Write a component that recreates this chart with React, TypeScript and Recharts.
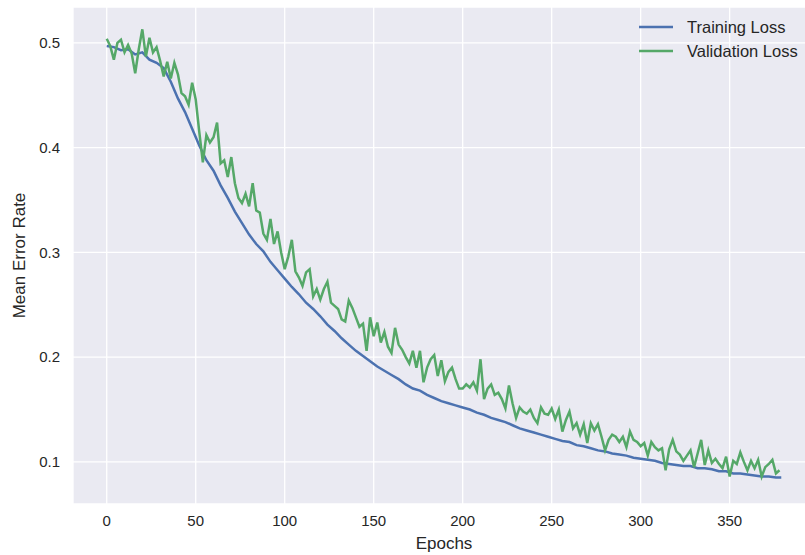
import { LineChart, Line, XAxis, YAxis, CartesianGrid, Label } from "recharts";

// validation loss, one reading every 2 epochs (0..378)
const valLoss = [
  0.504, 0.497, 0.484, 0.5, 0.503, 0.491, 0.498, 0.49, 0.471, 0.494,
  0.513, 0.487, 0.505, 0.491, 0.496, 0.483, 0.468, 0.482, 0.466, 0.481,
  0.47, 0.452, 0.449, 0.441, 0.462, 0.446, 0.415, 0.386, 0.412, 0.405,
  0.41, 0.424, 0.385, 0.388, 0.372, 0.391, 0.366, 0.352, 0.347, 0.356,
  0.344, 0.366, 0.34, 0.338, 0.318, 0.312, 0.332, 0.308, 0.32, 0.3,
  0.284, 0.296, 0.312, 0.282, 0.276, 0.268, 0.281, 0.284, 0.258, 0.265,
  0.255, 0.265, 0.272, 0.252, 0.249, 0.246, 0.236, 0.234, 0.254, 0.247,
  0.238, 0.229, 0.232, 0.206, 0.238, 0.22, 0.233, 0.214, 0.224, 0.21,
  0.204, 0.228, 0.212, 0.207, 0.2, 0.194, 0.206, 0.19, 0.206, 0.176,
  0.19, 0.198, 0.202, 0.182, 0.197, 0.177, 0.186, 0.19, 0.179, 0.17,
  0.17, 0.174, 0.171, 0.176, 0.168, 0.198, 0.16, 0.17, 0.174, 0.164,
  0.166, 0.16, 0.151, 0.173, 0.156, 0.142, 0.152, 0.148, 0.146, 0.15,
  0.142, 0.137, 0.152, 0.146, 0.145, 0.151, 0.141, 0.15, 0.129, 0.14,
  0.148, 0.132, 0.137, 0.126, 0.136, 0.118, 0.137, 0.13, 0.136, 0.124,
  0.111, 0.121, 0.126, 0.124, 0.119, 0.124, 0.114, 0.129, 0.121, 0.119,
  0.115, 0.118, 0.106, 0.119, 0.114, 0.111, 0.113, 0.092, 0.112, 0.121,
  0.11, 0.107, 0.101, 0.106, 0.111, 0.095, 0.108, 0.121, 0.097, 0.111,
  0.099, 0.103, 0.098, 0.094, 0.105, 0.086, 0.101, 0.098, 0.109, 0.1,
  0.092, 0.101, 0.094, 0.102, 0.086, 0.095, 0.098, 0.102, 0.089, 0.092,
];
const VAL_STEP = 2;

// training loss, one reading every 4 epochs (0..376), last reading at epoch 379
const trainLoss = [
  0.497, 0.496, 0.493, 0.494, 0.489, 0.491, 0.484, 0.481, 0.476, 0.463,
  0.447, 0.434, 0.418, 0.402, 0.388, 0.378, 0.364, 0.352, 0.339, 0.328,
  0.317, 0.308, 0.301, 0.291, 0.283, 0.275, 0.267, 0.26, 0.252, 0.246,
  0.239, 0.231, 0.225, 0.218, 0.212, 0.206, 0.201, 0.196, 0.191, 0.187,
  0.183, 0.179, 0.174, 0.17, 0.168, 0.164, 0.161, 0.158, 0.156, 0.154,
  0.152, 0.15, 0.147, 0.145, 0.142, 0.14, 0.138, 0.135, 0.132, 0.13,
  0.128, 0.126, 0.124, 0.122, 0.12, 0.119, 0.116, 0.115, 0.113, 0.111,
  0.11, 0.108, 0.107, 0.106, 0.104, 0.103, 0.102, 0.101, 0.099, 0.098,
  0.097, 0.096, 0.096, 0.094, 0.094, 0.093, 0.091, 0.091, 0.089, 0.089,
  0.088, 0.087, 0.086, 0.086, 0.085,
];
const TRAIN_STEP = 4;
const TRAIN_LAST = { epoch: 379, value: 0.085 };

const xTicks = [0, 50, 100, 150, 200, 250, 300, 350];
const yTicks = [0.1, 0.2, 0.3, 0.4, 0.5];

const seriesNames = ["Training Loss", "Validation Loss"];
const BLUE = "#4C72B0";
const GREEN = "#55A868";
const TEXT = "#262626";
const FONT = "'Liberation Sans', Arial, sans-serif";

const trainData = [
  ...trainLoss.map((v, i) => ({ epoch: i * TRAIN_STEP, train: v })),
  { epoch: TRAIN_LAST.epoch, train: TRAIN_LAST.value },
];
const valData = valLoss.map((v, i) => ({ epoch: i * VAL_STEP, val: v }));

function LegendBox() {
  const colors = [BLUE, GREEN];
  return (
    <div
      style={{
        position: "absolute",
        left: 639,
        top: 15,
        fontFamily: FONT,
        fontSize: 16.5,
        color: TEXT,
      }}
    >
      {seriesNames.map((name, i) => (
        <div key={name} style={{ display: "flex", alignItems: "center", height: 24 }}>
          <svg width={34} height={4} style={{ marginRight: 14 }}>
            <line x1={0} y1={2} x2={34} y2={2} stroke={colors[i]} strokeWidth={2.6} />
          </svg>
          <span>{name}</span>
        </div>
      ))}
    </div>
  );
}

export default function App() {
  return (
    <div
      style={{
        position: "absolute",
        left: 0,
        top: 0,
        width: 805,
        height: 555,
        overflow: "hidden",
        background: "#fff",
      }}
    >
      <LineChart
        width={815}
        height={555}
        margin={{ top: 7, right: 0, bottom: 0, left: 0 }}
        style={{ fontFamily: FONT }}
      >
        <CartesianGrid fill="#EAEAF2" stroke="#ffffff" strokeWidth={1.3} />
        <XAxis
          type="number"
          dataKey="epoch"
          domain={[-18.95, 397.95]}
          ticks={xTicks}
          allowDataOverflow
          axisLine={false}
          tickLine={false}
          tickSize={0}
          tickMargin={11}
          height={51}
          tick={{ fill: TEXT, fontSize: 15 }}
        >
          <Label value="Epochs" position="insideBottom" offset={6} fill={TEXT} fontSize={17} />
        </XAxis>
        <YAxis
          type="number"
          domain={[0.0598, 0.5343]}
          ticks={yTicks}
          allowDataOverflow
          axisLine={false}
          tickLine={false}
          tickSize={0}
          tickMargin={13}
          width={73}
          tickFormatter={(v: number) => v.toFixed(1)}
          tick={{ fill: TEXT, fontSize: 15 }}
        >
          <Label
            value="Mean Error Rate"
            angle={-90}
            position="insideLeft"
            offset={19}
            fill={TEXT}
            fontSize={17}
            style={{ textAnchor: "middle" }}
          />
        </YAxis>
        <Line
          data={trainData}
          dataKey="train"
          name={seriesNames[0]}
          type="linear"
          stroke={BLUE}
          strokeWidth={2.5}
          dot={false}
          isAnimationActive={false}
        />
        <Line
          data={valData}
          dataKey="val"
          name={seriesNames[1]}
          type="linear"
          stroke={GREEN}
          strokeWidth={2.5}
          dot={false}
          isAnimationActive={false}
        />
      </LineChart>
      <LegendBox />
    </div>
  );
}
